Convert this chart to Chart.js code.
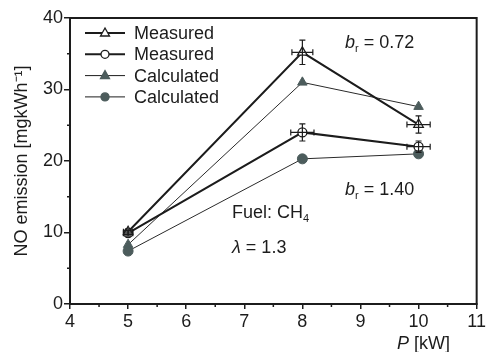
<!DOCTYPE html>
<html>
<head>
<meta charset="utf-8">
<script src="https://cdn.jsdelivr.net/npm/chart.js@4/dist/chart.umd.min.js"></script>
<style>
  html, body { margin: 0; padding: 0; background: #fff; }
  #wrap { width: 488px; height: 352px; }
</style>
</head>
<body>
<div id="wrap"><canvas id="noChart" width="488" height="352"></canvas></div>
<script>
// data
const powers = [5, 8, 10];
const measured072 = [10.1, 35.2, 25.1];
const measured140 = [9.9, 24.0, 22.0];
const calculated072 = [8.3, 31.0, 27.6];
const calculated140 = [7.4, 20.3, 21.0];
// error bars of the measured series
const measured072YErr = [0.4, 1.7, 1.2];
const measured072XErr = [0.08, 0.18, 0.2];
const measured140YErr = [0.4, 1.2, 0.8];
const measured140XErr = [0.08, 0.2, 0.2];

const xTicks = [4, 5, 6, 7, 8, 9, 10, 11];
const yTicks = [0, 10, 20, 30, 40];
const legendLabels = ['Measured', 'Measured', 'Calculated', 'Calculated'];

const FONT = '"Liberation Sans", Arial, sans-serif';
const INK = '#1c1c1c';
const FILL = '#4c5c5c';

function toPoints(ys) {
    return powers.map((p, i) => ({ x: p, y: ys[i] }));
}

// error bars for the measured series
const errorBars = {
    id: 'errorBars',
    afterDatasetsDraw(chart) {
        const ctx = chart.ctx;
        const xs = chart.scales.x, ys = chart.scales.y;
        const sets = [
            [measured072, measured072YErr, measured072XErr],
            [measured140, measured140YErr, measured140XErr]
        ];
        ctx.save();
        ctx.strokeStyle = INK;
        ctx.lineWidth = 1.2;
        sets.forEach(([vals, yErr, xErr]) => {
            powers.forEach((p, i) => {
                const px = xs.getPixelForValue(p);
                const py = ys.getPixelForValue(vals[i]);
                const top = ys.getPixelForValue(vals[i] + yErr[i]);
                const bot = ys.getPixelForValue(vals[i] - yErr[i]);
                const l = xs.getPixelForValue(p - xErr[i]);
                const r = xs.getPixelForValue(p + xErr[i]);
                ctx.beginPath();
                ctx.moveTo(px, top); ctx.lineTo(px, bot);
                ctx.moveTo(px - 3, top); ctx.lineTo(px + 3, top);
                ctx.moveTo(px - 3, bot); ctx.lineTo(px + 3, bot);
                ctx.moveTo(l, py); ctx.lineTo(r, py);
                ctx.moveTo(l, py - 3); ctx.lineTo(l, py + 3);
                ctx.moveTo(r, py - 3); ctx.lineTo(r, py + 3);
                ctx.stroke();
            });
        });
        ctx.restore();
    }
};

function marker(ctx, style, filled, x, y) {
    ctx.beginPath();
    if (style === 'triangle') {
        const r = 5;
        ctx.moveTo(x, y - r);
        ctx.lineTo(x + r * 0.9, y + r * 0.6);
        ctx.lineTo(x - r * 0.9, y + r * 0.6);
        ctx.closePath();
    } else {
        ctx.arc(x, y, 4, 0, Math.PI * 2);
    }
    ctx.fillStyle = filled ? FILL : '#fff';
    ctx.fill();
    ctx.strokeStyle = filled ? FILL : INK;
    ctx.lineWidth = 1.3;
    ctx.stroke();
}

// box, minor ticks, axis titles, legend and notes
const decorations = {
    id: 'decorations',
    afterDraw(chart) {
        const ctx = chart.ctx;
        const a = chart.chartArea;
        const xs = chart.scales.x, ys = chart.scales.y;
        ctx.save();
        ctx.strokeStyle = INK;
        ctx.lineWidth = 2;
        ctx.strokeRect(a.left, a.top, a.right - a.left, a.bottom - a.top);

        ctx.lineWidth = 1.5;
        ctx.beginPath();
        for (let v = 4.5; v < 11; v += 1) {
            const px = xs.getPixelForValue(v);
            ctx.moveTo(px, a.bottom); ctx.lineTo(px, a.bottom + 3);
        }
        for (let v = 5; v < 40; v += 10) {
            const py = ys.getPixelForValue(v);
            ctx.moveTo(a.left, py); ctx.lineTo(a.left - 3, py);
        }
        ctx.stroke();

        function note(parts, x, y) {
            parts.forEach(([txt, font, dy]) => {
                ctx.font = font;
                ctx.fillStyle = INK;
                ctx.fillText(txt, x, y + dy);
                x += ctx.measureText(txt).width;
            });
        }

        // axis titles
        ctx.textBaseline = 'alphabetic';
        note([['P', 'italic 18px ' + FONT, 0], [' [kW]', '18px ' + FONT, 0]], 397, 349);
        ctx.save();
        ctx.translate(27, (a.top + a.bottom) / 2);
        ctx.rotate(-Math.PI / 2);
        ctx.font = '18px ' + FONT;
        ctx.textAlign = 'center';
        ctx.fillStyle = INK;
        ctx.fillText('NO emission [mgkWh⁻¹]', 0, 0);
        ctx.restore();

        // legend
        const rows = [
            ['triangle', false, 2],
            ['circle', false, 2],
            ['triangle', true, 1],
            ['circle', true, 1]
        ];
        ctx.font = '18px ' + FONT;
        ctx.textBaseline = 'middle';
        rows.forEach((row, i) => {
            const y = 33 + i * 21.3;
            ctx.strokeStyle = INK;
            ctx.lineWidth = row[2];
            ctx.beginPath();
            ctx.moveTo(85, y); ctx.lineTo(125, y);
            ctx.stroke();
            marker(ctx, row[0], row[1], 105, y);
            ctx.fillStyle = INK;
            ctx.fillText(legendLabels[i], 134, y + 1);
        });

        // notes
        ctx.textBaseline = 'alphabetic';
        note([['b', 'italic 18px ' + FONT, 0], ['r', '11px ' + FONT, 4], [' = 0.72', '18px ' + FONT, 0]], 345, 48);
        note([['b', 'italic 18px ' + FONT, 0], ['r', '11px ' + FONT, 4], [' = 1.40', '18px ' + FONT, 0]], 345, 195);
        note([['Fuel: CH', '18px ' + FONT, 0], ['4', '11px ' + FONT, 4]], 232, 218);
        note([['λ', 'italic 18px ' + FONT, 0], [' = 1.3', '18px ' + FONT, 0]], 232, 253);
        ctx.restore();
    }
};

const ctx = document.getElementById('noChart').getContext('2d');
new Chart(ctx, {
    type: 'line',
    data: {
        datasets: [
            {
                label: 'Measured',
                data: toPoints(measured072),
                borderColor: INK,
                borderWidth: 2,
                pointStyle: 'triangle',
                pointRadius: 5.5,
                pointBackgroundColor: '#fff',
                pointBorderColor: INK,
                pointBorderWidth: 1.3
            },
            {
                label: 'Measured',
                data: toPoints(measured140),
                borderColor: INK,
                borderWidth: 2,
                pointStyle: 'circle',
                pointRadius: 4.5,
                pointBackgroundColor: '#fff',
                pointBorderColor: INK,
                pointBorderWidth: 1.3
            },
            {
                label: 'Calculated',
                data: toPoints(calculated072),
                borderColor: '#2a2a2a',
                borderWidth: 1,
                pointStyle: 'triangle',
                pointRadius: 5.5,
                pointBackgroundColor: FILL,
                pointBorderColor: FILL
            },
            {
                label: 'Calculated',
                data: toPoints(calculated140),
                borderColor: '#2a2a2a',
                borderWidth: 1,
                pointStyle: 'circle',
                pointRadius: 5,
                pointBackgroundColor: FILL,
                pointBorderColor: FILL
            }
        ]
    },
    options: {
        responsive: false,
        animation: false,
        layout: { padding: { top: 18, right: 6, left: 0, bottom: 0 } },
        plugins: {
            legend: { display: false },
            tooltip: { enabled: false }
        },
        scales: {
            x: {
                type: 'linear',
                min: 4,
                max: 11,
                afterFit: scale => { scale.height = 48; },
                afterBuildTicks: scale => { scale.ticks = xTicks.map(v => ({ value: v })); },
                grid: { drawOnChartArea: false, color: INK, lineWidth: 1.5, tickLength: 5 },
                border: { color: INK, width: 2 },
                ticks: { color: INK, font: { family: FONT, size: 18 }, padding: 2, maxRotation: 0 }
            },
            y: {
                min: 0,
                max: 40,
                afterFit: scale => { scale.width = 70; },
                afterBuildTicks: scale => { scale.ticks = yTicks.map(v => ({ value: v })); },
                grid: { drawOnChartArea: false, color: INK, lineWidth: 1.5, tickLength: 6 },
                border: { color: INK, width: 2 },
                ticks: { color: INK, font: { family: FONT, size: 18 }, padding: 1 }
            }
        }
    },
    plugins: [errorBars, decorations]
});
</script>
</body>
</html>
